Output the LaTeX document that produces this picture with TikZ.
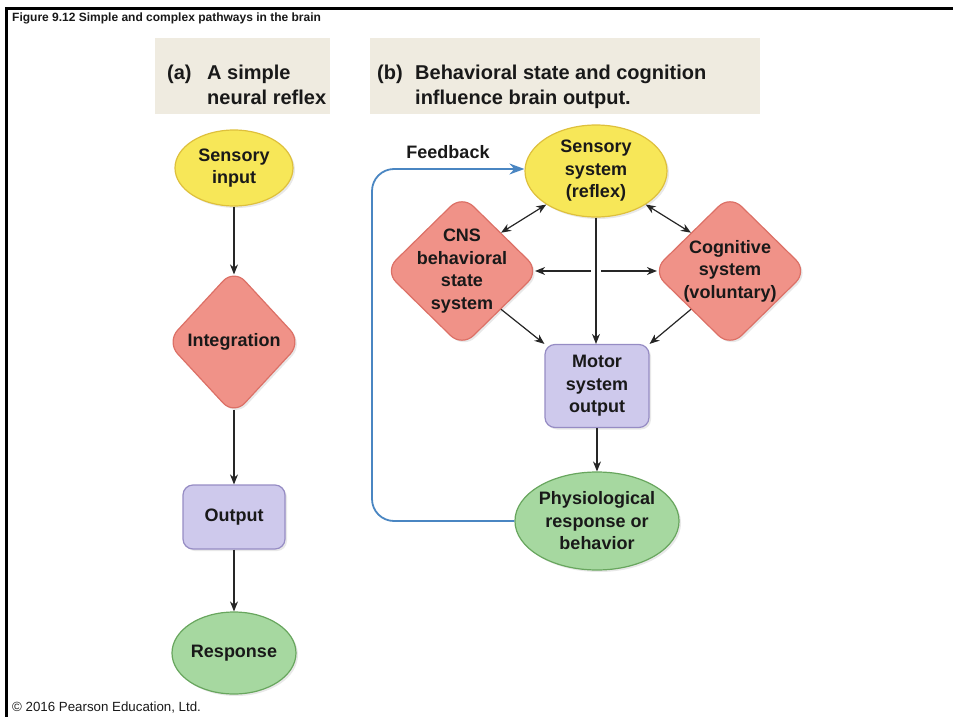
\documentclass[tikz,border=0pt]{standalone}
\usepackage{fontspec}
\setmainfont{Liberation Sans}
\usetikzlibrary{shapes.geometric,arrows.meta,shadows}

\definecolor{senseyel}{RGB}{247,231,88}
\definecolor{senseedge}{RGB}{222,192,60}
\definecolor{integpink}{RGB}{240,146,136}
\definecolor{integedge}{RGB}{220,112,102}
\definecolor{outlav}{RGB}{206,201,236}
\definecolor{outedge}{RGB}{150,140,196}
\definecolor{respgreen}{RGB}{166,216,160}
\definecolor{respedge}{RGB}{104,166,94}
\definecolor{hdrbg}{RGB}{239,235,224}
\definecolor{fbblue}{RGB}{74,134,194}

\begin{document}
\begin{tikzpicture}[x=1pt, y=-1pt,
  every node/.style={font=\bfseries\fontsize{18}{22.5}\selectfont, align=center, text=black!90},
  shade/.style={drop shadow={opacity=0.18, shadow xshift=2pt, shadow yshift=-2pt}},
  sense/.style={ellipse, draw=senseedge, fill=senseyel, line width=1.2pt, inner sep=0pt, shade},
  integ/.style={diamond, draw=integedge, fill=integpink, line width=1.2pt, rounded corners=16pt, inner sep=0pt, shade},
  outbox/.style={rectangle, draw=outedge, fill=outlav, line width=1.2pt, rounded corners=10pt, inner sep=0pt, shade},
  resp/.style={ellipse, draw=respedge, fill=respgreen, line width=1.2pt, inner sep=0pt, shade},
  hdr/.style={font=\bfseries\fontsize{20}{25}\selectfont, anchor=base west, align=left, inner sep=0pt},
  link/.style={-{Stealth[length=10pt,width=8pt]}, line width=1.2pt, black!85},
  dlink/.style={{Stealth[length=10pt,width=8pt]}-{Stealth[length=10pt,width=8pt]}, line width=1.2pt, black!85},
  fback/.style={-{Stealth[length=15pt,width=11pt]}, line width=1.8pt, fbblue, rounded corners=22pt}
]
\useasboundingbox (0,0) rectangle (953,717);

% frame, caption and credit
\draw[line width=3pt] (6.5,717) -- (6.5,9) -- (953,9);
\node[font=\bfseries\fontsize{12}{14}\selectfont, anchor=base west, inner sep=0pt] (title) at (12,22)
  {Figure 9.12 Simple and complex pathways in the brain};
\node[font=\fontsize{13.3}{15}\selectfont, anchor=base west, inner sep=0pt] (credit) at (12,711)
  {\textcopyright{} 2016 Pearson Education, Ltd.};

% panel headings (base of a two-line node is its last line)
\fill[hdrbg] (155,38) rectangle (330,114);
\fill[hdrbg] (370,38) rectangle (760,114);
\node[hdr] (tagA) at (167,79) {(a)};
\node[hdr] (headA) at (207,104) {A simple\\neural reflex};
\node[hdr] (tagB) at (377,79) {(b)};
\node[hdr] (headB) at (415,104) {Behavioral state and cognition\\influence brain output.};

% (a) simple reflex
\node[sense, minimum width=118, minimum height=76] (sin) at (234,168) {Sensory\\input};
\node[integ, minimum width=135, minimum height=146] (integr) at (234,342) {Integration};
\node[outbox, minimum width=102, minimum height=64] (out) at (234,517) {Output};
\node[resp, minimum width=124, minimum height=82] (resp) at (234,653) {Response};

\draw[link, shorten >=-6pt] (sin) -- (integr);
\draw[link, shorten <=-6pt] (integr) -- (out);
\draw[link] (out) -- (resp);

% (b) brain output
\node[sense, minimum width=142, minimum height=92] (sens) at (596,171) {Sensory\\system\\(reflex)};
\node[integ, minimum width=155, minimum height=152] (cns) at (462,271) {};
\node (cnstxt) at (cns) {CNS\\behavioral\\state\\system};
\node[integ, minimum width=155, minimum height=152] (cog) at (730,271) {};
\node (cogtxt) at (cog) {Cognitive\\system\\(voluntary)};
\node[outbox, minimum width=104, minimum height=83] (motor) at (597,386) {Motor\\system\\output};
\node[resp, minimum width=156, minimum height=98] (phys) at (597,521) {Physiological\\response or\\behavior};

\draw[dlink] (cns.north east) -- (sens.214);
\draw[dlink] (sens.326) -- (cog.north west);
\draw[dlink, shorten <=-5pt, shorten >=-5pt] (cns.east) -- (cog.west);
\draw[white, line width=10pt] ([yshift=5pt]sens.south |- cns.east) -- ([yshift=-5pt]sens.south |- cns.east);
\draw[link] (sens.south) -- (sens.south |- motor.north);
\draw[link] (cns.south east) -- (motor.north west);
\draw[link] (cog.south west) -- (motor.north east);
\draw[link] (motor) -- (phys);

% feedback loop
\coordinate (fbturn) at (372,169);
\draw[fback] (phys.west) -| (fbturn) -- (sens.west |- fbturn);
\node (fblabel) at (448,152) {Feedback};
\end{tikzpicture}
\end{document}
